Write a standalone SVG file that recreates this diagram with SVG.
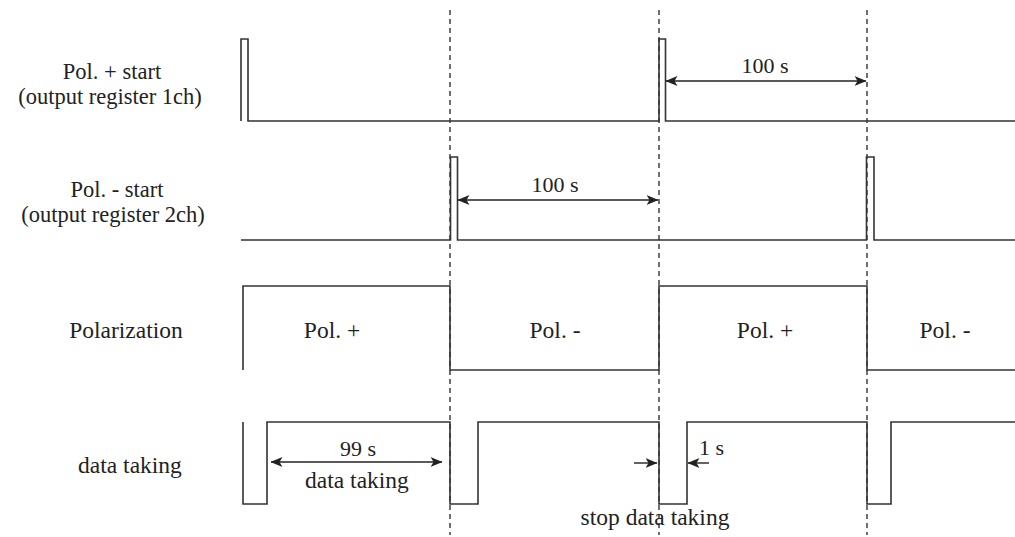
<svg xmlns="http://www.w3.org/2000/svg" width="1015" height="537" viewBox="0 0 1015 537">
  <defs>
    <marker id="arr" viewBox="0 0 12 10" refX="11.5" refY="5" markerWidth="12" markerHeight="10" markerUnits="userSpaceOnUse" orient="auto-start-reverse">
      <path d="M0,0 L12,5 L0,10 L3,5 Z" fill="#222"/>
    </marker>
  </defs>
  <style>
    .t { font-family: 'Liberation Serif', 'Times New Roman', Times, serif; font-size: 23.5px; fill: #222; }
    .n { font-size: 22px; }
    .s { font-size: 22.5px; }
    .lbl { text-anchor: middle; }
    .sig { fill: none; stroke: #333; stroke-width: 1.6; stroke-linejoin: miter; }
    .grid { fill: none; stroke: #333; stroke-width: 1.4; stroke-dasharray: 5 4; }
    .dim { fill: none; stroke: #222; stroke-width: 1.4; }
  </style>
  <rect width="1015" height="537" fill="#fff"/>

  <!-- signal names -->
  <g id="label-pol-plus-start">
    <text class="t s lbl" x="112" y="79">Pol. + start</text>
    <text class="t s lbl" x="110" y="104">(output register 1ch)</text>
  </g>
  <g id="label-pol-minus-start">
    <text class="t s lbl" x="117" y="197">Pol. - start</text>
    <text class="t s lbl" x="113" y="222">(output register 2ch)</text>
  </g>
  <g id="label-polarization">
    <text class="t lbl" x="126" y="338">Polarization</text>
  </g>
  <g id="label-data-taking">
    <text class="t lbl" x="130" y="473">data taking</text>
  </g>

  <!-- waveforms -->
  <g id="wave-pol-plus-start">
    <path class="sig" d="M241,121 V39 H248 V121 H659 V39 H665.5 V121 H1015"/>
  </g>
  <g id="wave-pol-minus-start">
    <path class="sig" d="M241,240 H450.5 V157 H457.5 V240 H866.5 V157 H874 V240 H1015"/>
  </g>
  <g id="wave-polarization">
    <path class="sig" d="M243,370 V286 H450 V370 H659 V286 H867 V370 H1015"/>
    <text class="t lbl" x="332" y="338">Pol. +</text>
    <text class="t lbl" x="555" y="338">Pol. -</text>
    <text class="t lbl" x="765" y="338">Pol. +</text>
    <text class="t lbl" x="945" y="338">Pol. -</text>
  </g>
  <g id="wave-data-taking">
    <path class="sig" d="M243,422 V504 H267 V422 H450 V504 H478 V422 H659 V504 H687 V422 H867 V504 H891 V422 H1015"/>
  </g>

  <!-- timing marks and dimensions -->
  <g id="connectors">
    <line class="grid" x1="450" y1="10" x2="450" y2="535"/>
    <line class="grid" x1="659" y1="10" x2="659" y2="535"/>
    <line class="grid" x1="867" y1="10" x2="867" y2="535"/>

    <line class="dim" x1="666" y1="81" x2="866" y2="81" marker-start="url(#arr)" marker-end="url(#arr)"/>
    <text class="t n lbl" x="765" y="73">100 s</text>

    <line class="dim" x1="458" y1="200" x2="658" y2="200" marker-start="url(#arr)" marker-end="url(#arr)"/>
    <text class="t n lbl" x="555" y="192">100 s</text>

    <line class="dim" x1="271" y1="462" x2="442" y2="462" marker-start="url(#arr)" marker-end="url(#arr)"/>
    <text class="t n lbl" x="358" y="456">99 s</text>
    <text class="t lbl" x="357" y="488">data taking</text>

    <line class="dim" x1="634" y1="463" x2="657" y2="463" marker-end="url(#arr)"/>
    <line class="dim" x1="709" y1="463" x2="688" y2="463" marker-end="url(#arr)"/>
    <text class="t n" x="699" y="455">1 s</text>
    <text class="t lbl" x="655" y="525">stop data taking</text>
  </g>
</svg>
